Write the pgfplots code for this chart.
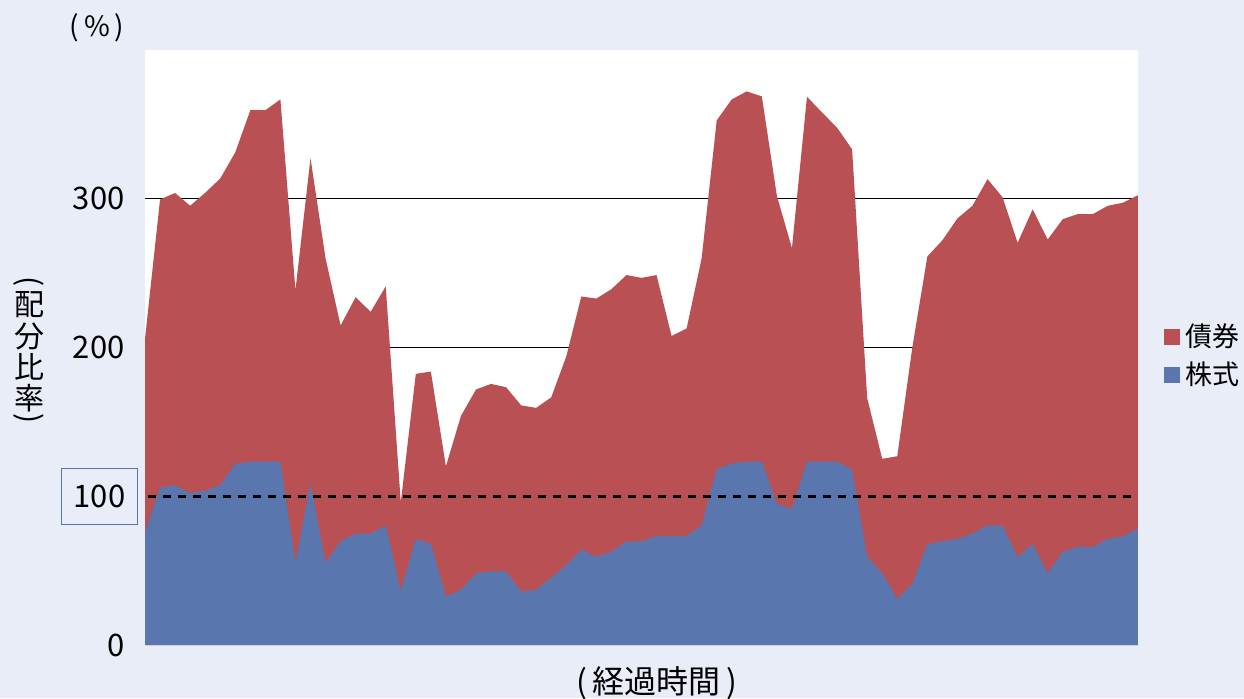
\documentclass[border=0pt]{standalone}
\usepackage{pgfplots}
\pgfplotsset{compat=1.18}
\usepackage{pgfplotstable}
\usepackage{fontspec}
\setmainfont{Noto Sans CJK JP}
\definecolor{bgc}{RGB}{233,237,248}
\definecolor{bondred}{RGB}{185,81,84}
\definecolor{stockblue}{RGB}{90,118,174}
\definecolor{boxblue}{RGB}{90,118,174}

\pgfplotstableread{
x total
0 205.8
1 299.5
2 303.9
3 295.3
4 304
5 313.6
6 331.2
7 359.5
8 359.5
9 366.8
10 238.5
11 327.3
12 260
13 214.8
14 233.8
15 224
16 241.1
17 95.9
18 182.3
19 183.8
20 120.1
21 154
22 171.8
23 175.5
24 173.3
25 161.1
26 159.4
27 166.5
28 194
29 234.3
30 232.9
31 239.2
32 248.7
33 246.8
34 248.7
35 207.7
36 212.8
37 260
38 352.7
39 366.8
40 372.2
41 368.8
42 301.9
43 266.8
44 368.6
45 358
46 347.8
47 333.2
48 166
49 125.2
50 126.9
51 200
52 261.2
53 272.1
54 286.8
55 295.3
56 313.2
57 301
58 270.4
59 292.9
60 272.6
61 286.3
62 289.7
63 289.7
64 295.3
65 297.3
66 302.4
}\totaltable

\pgfplotstableread{
x stock
0 75.7
1 105.7
2 107.4
3 102
4 103.7
5 107.4
6 121.8
7 123.3
8 123.3
9 123.3
10 55.4
11 108.6
12 55.4
13 69.6
14 74.9
15 74.9
16 80.3
17 36.6
18 71.3
19 67.9
20 32.5
21 37.1
22 48.1
23 49.5
24 49.5
25 35.9
26 37.1
27 45.2
28 53.7
29 64
30 59.3
31 62.7
32 69.6
33 69.6
34 73.2
35 73.2
36 73.2
37 80.5
38 118.4
39 122
40 123.3
41 123.3
42 95
43 91.5
44 123.3
45 123.3
46 123.3
47 117.9
48 59.3
49 48.3
50 31
51 41
52 67.9
53 69.6
54 71.3
55 74.9
56 80.3
57 80.3
58 59.1
59 67.9
60 48.3
61 62.7
62 65.9
63 65.9
64 71.3
65 73.2
66 78.1
}\stocktable

\begin{document}
\begin{tikzpicture}[x=1pt,y=1pt]
\fill[bgc] (0,0) rectangle (622,349);
\begin{axis}[
  at={(72.5pt,26.5pt)}, anchor=south west,
  scale only axis, width=496.5pt, height=297.5pt,
  xmin=0, xmax=66, ymin=0, ymax=400,
  axis background/.style={fill=white},
  axis line style={draw=none},
  major tick length=0pt,
  xtick=\empty,
  ytick={0,200,300},
  extra y ticks={100},
  extra y tick style={yticklabel style={draw=boxblue, line width=0.6pt, inner xsep=6pt, inner ysep=0pt, minimum height=28pt, xshift=6.5pt}},
  yticklabel style={font=\fontsize{15.5}{18}\selectfont, inner sep=0pt, anchor=east, xshift=-10pt},
  /pgf/number format/assume math mode=true,
  legend style={at={(1.0255,0.486)}, anchor=west, draw=none, fill=none,
    font=\fontsize{13.5}{15}\selectfont, row sep=4pt,
    inner sep=0pt, nodes={inner xsep=3pt, inner ysep=1pt}},
  legend cell align=left,
  legend image code/.code={\fill[#1] (0pt,-3.9pt) rectangle (8pt,3.9pt);},
]
\addplot[black, line width=0.5pt, forget plot] coordinates {(0,200) (66,200)};
\addplot[black, line width=0.5pt, forget plot] coordinates {(0,300) (66,300)};
\addplot[draw=none, fill=bondred] table[x=x,y=total] {\totaltable} \closedcycle;
\addlegendentry{債券}
\addplot[draw=none, fill=stockblue] table[x=x,y=stock] {\stocktable} \closedcycle;
\addlegendentry{株式}
\addplot[black, line width=1.5pt, dash pattern=on 4pt off 3.5pt, forget plot] coordinates {(0.2,100) (66,100)};
\end{axis}
\node[font=\fontsize{14}{15}\selectfont] at (48.5,335) {(\,\%\,)};
\node[font=\fontsize{15}{15.7}\selectfont, align=center, inner sep=0pt] at (14.5,173)
  {配\\分\\比\\率};
\node[font=\fontsize{15}{16}\selectfont, rotate=-90, inner sep=0pt] at (14.5,208) {(};
\node[font=\fontsize{15}{16}\selectfont, rotate=-90, inner sep=0pt] at (14.5,139.5) {)};
\node[font=\fontsize{16}{18}\selectfont] at (328.5,7.5) {(\,経過時間\,)};
\pgfresetboundingbox
\useasboundingbox (0,0) rectangle (622,349);
\end{tikzpicture}
\end{document}
